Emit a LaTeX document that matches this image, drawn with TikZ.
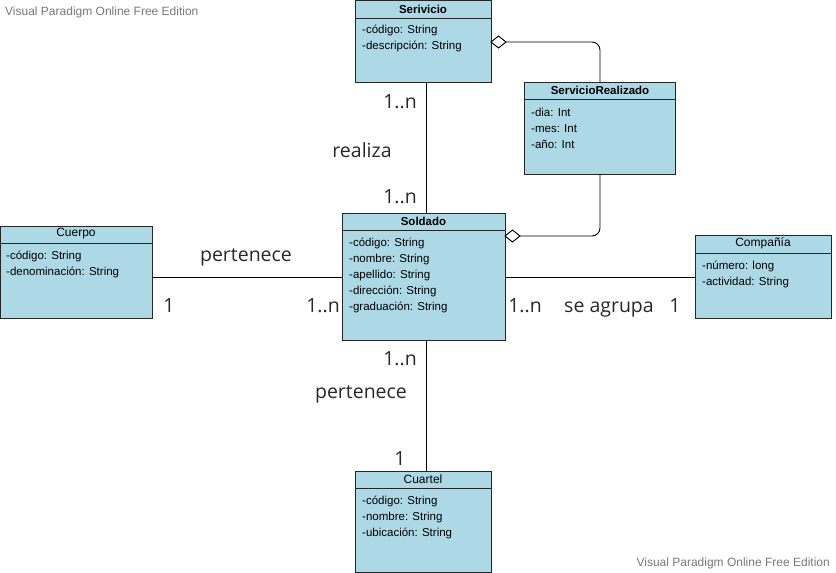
\documentclass[tikz,border=0pt]{standalone}
\usepackage{fontspec}
\setmainfont{Liberation Sans}
\newfontfamily\lblfont{Open Sans}
\definecolor{clsfill}{RGB}{173,216,230}
\definecolor{lbl}{RGB}{40,40,40}
\definecolor{wm}{RGB}{120,120,120}
\begin{document}
\begin{tikzpicture}[x=1pt,y=-1pt,
  cls/.style={draw=black!85,fill=clsfill,line width=0.9pt},
  hdr/.style={font=\fontsize{11.5}{13}\selectfont\bfseries,inner sep=0pt,anchor=center},
  hdrn/.style={font=\fontsize{12}{13}\selectfont,inner sep=0pt,anchor=center},
  attr/.style={font=\fontsize{11.5}{16}\selectfont,inner sep=0pt,anchor=north west,align=left},
  conn/.style={draw=black,line width=0.9pt},
  rel/.style={font=\lblfont\fontsize{19.5}{22}\selectfont,text=lbl,inner sep=0pt,anchor=center,text height=14pt,text depth=0pt},
  agg/.style={conn,rounded corners=8pt},
  dia/.style={draw=black,fill=white,line width=0.9pt}
]
\useasboundingbox (0,0) rectangle (836,573);
% watermarks
\node[font=\fontsize{12}{14}\selectfont,text=wm,anchor=west,inner sep=0pt] (wm1) at (5,12) {Visual Paradigm Online Free Edition};
\node[font=\fontsize{12}{14}\selectfont,text=wm,anchor=east,inner sep=0pt] (wm2) at (830,563) {Visual Paradigm Online Free Edition};

% Serivicio
\draw[cls] (355,0) rectangle (491,82);
\draw[black!85,line width=0.9pt] (355,18) -- (491,18);
\coordinate (serS) at (426,82);
\coordinate (serE) at (491,42);
\node[hdr] (serh) at (423,9) {Serivicio};
\node[attr] (sera) at (362,25) {-código: String\\-descripción: String};

% ServicioRealizado
\draw[cls] (524,82) rectangle (675,174);
\draw[black!85,line width=0.9pt] (524,99) -- (675,99);
\coordinate (srN) at (600,82);
\coordinate (srS) at (600,174);
\node[hdr] (srh) at (600,90) {ServicioRealizado};
\node[attr] (sra) at (531,108) {-dia: Int\\-mes: Int\\-año: Int};

% Soldado
\draw[cls] (342,213) rectangle (505,340);
\draw[black!85,line width=0.9pt] (342,230) -- (505,230);
\coordinate (solN) at (426,213);
\coordinate (solS) at (426,340);
\coordinate (solW) at (342,277);
\coordinate (solE) at (505,277);
\coordinate (solD) at (505,236);
\node[hdr] (solh) at (423.5,221) {Soldado};
\node[attr] (sola) at (349,238) {-código: String\\-nombre: String\\-apellido: String\\-dirección: String\\-graduación: String};

% Cuerpo
\draw[cls] (0,226) rectangle (152,318);
\draw[black!85,line width=0.9pt] (0,243) -- (152,243);
\coordinate (cueE) at (152,277);
\node[hdrn] (cueh) at (76,234) {Cuerpo};
\node[attr] (cuea) at (6,251) {-código: String\\-denominación: String};

% Compañía
\draw[cls] (695,235) rectangle (831,318);
\draw[black!85,line width=0.9pt] (695,253) -- (831,253);
\coordinate (comW) at (695,277);
\node[hdrn] (comh) at (763,243) {Compañía};
\node[attr] (coma) at (702,261) {-número: long\\-actividad: String};

% Cuartel
\draw[cls] (355,471) rectangle (491,572);
\draw[black!85,line width=0.9pt] (355,488) -- (491,488);
\coordinate (cuaN) at (426,471);
\node[hdrn] (cuah) at (423,479) {Cuartel};
\node[attr] (cuaa) at (362,496) {-código: String\\-nombre: String\\-ubicación: String};

% connectors
\draw[conn] (serS) -- (solN);
\draw[conn] (cueE) -- (solW);
\draw[conn] (solE) -- (comW);
\draw[conn] (solS) -- (cuaN);
\coordinate (c1) at (600,42);
\coordinate (c2) at (600,236);
\draw[agg] ([xshift=15pt]serE) -- (c1) -- (srN);
\draw[agg] (srS) -- (c2) -- ([xshift=15pt]solD);
\draw[dia] (serE) -- ++(7.5,-6) -- ++(7.5,6) -- ++(-7.5,6) -- cycle;
\draw[dia] (solD) -- ++(7.5,-6) -- ++(7.5,6) -- ++(-7.5,6) -- cycle;

% labels
\node[rel] (l1) at (400,101) {1..n};
\node[rel] (l2) at (362,150) {realiza};
\node[rel] (l3) at (400,196) {1..n};
\node[rel] (l4) at (246,254) {pertenece};
\node[rel] (l5) at (169,305) {1};
\node[rel] (l6) at (323,305) {1..n};
\node[rel] (l7) at (525,305) {1..n};
\node[rel] (l8) at (609,305) {se agrupa};
\node[rel] (l9) at (675,305) {1};
\node[rel] (l10) at (400,358) {1..n};
\node[rel] (l11) at (361,391) {pertenece};
\node[rel] (l12) at (400,458) {1};
\end{tikzpicture}
\end{document}
